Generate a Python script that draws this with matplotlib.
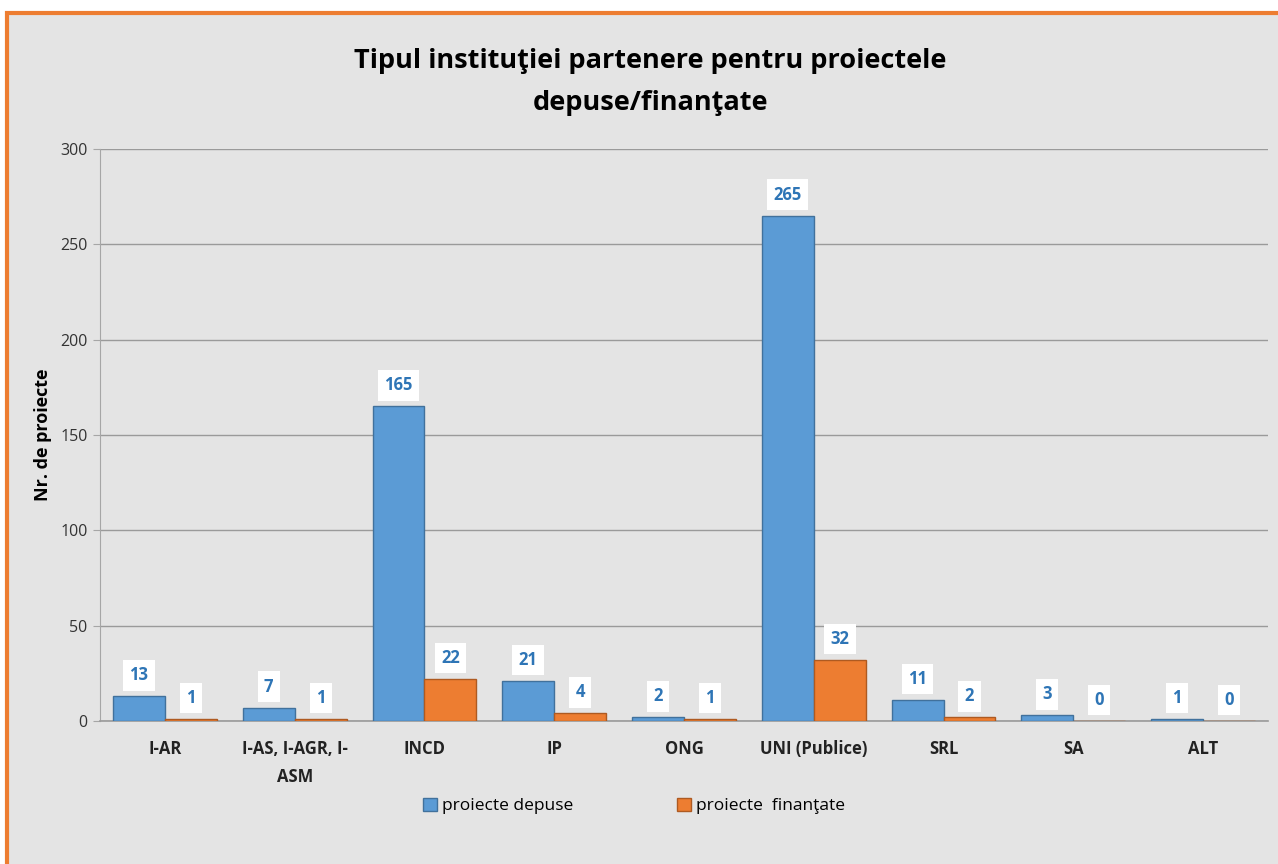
import matplotlib
matplotlib.use("Agg")
import matplotlib.pyplot as plt
import numpy as np
from matplotlib.patches import Rectangle

categories = ["I-AR", "I-AS, I-AGR, I-\nASM", "INCD", "IP", "ONG", "UNI (Publice)", "SRL", "SA", "ALT"]
depuse = [13, 7, 165, 21, 2, 265, 11, 3, 1]
finantate = [1, 1, 22, 4, 1, 32, 2, 0, 0]
series_names = ["proiecte depuse", "proiecte  finanţate"]
yticks = [0, 50, 100, 150, 200, 250, 300]

plt.rcParams['font.family'] = ['Open Sans', 'DejaVu Sans']

W, H = 1278, 864
fig = plt.figure(figsize=(W / 100, H / 100), dpi=100)
fig.patch.set_facecolor("white")

# background panel with orange border
bg = Rectangle((7 / W, -0.1), 1.2, 1 - 13 / H + 0.1, transform=fig.transFigure,
               facecolor="#e4e4e4", edgecolor="#ed7d31", linewidth=3.0, zorder=-5)
fig.add_artist(bg)

ax = fig.add_axes([100 / W, 1 - 721 / H, 1168 / W, (721 - 149) / H])
ax.set_facecolor("none")
ax.set_zorder(2)

x = np.arange(len(categories))
bw = 0.4
blue, orange = "#5b9bd5", "#ed7d31"
b1 = ax.bar(x - bw / 2, depuse, bw, color=blue, edgecolor="#41719c", linewidth=1.0,
            label=series_names[0], zorder=3)
b2 = ax.bar(x + bw / 2, finantate, bw, color=orange, edgecolor="#ae5a21", linewidth=1.0,
            label=series_names[1], zorder=3)

for bars, vals in ((b1, depuse), (b2, finantate)):
    for rect, v in zip(bars, vals):
        ax.annotate(str(v), (rect.get_x() + rect.get_width() / 2, v),
                    xytext=(0, 21), textcoords="offset pixels",
                    ha="center", va="center", fontsize=12, fontweight="bold",
                    color="#2e75b6", zorder=5,
                    bbox=dict(boxstyle="square,pad=0.38", facecolor="white", edgecolor="none"))

ax.set_xlim(-0.5, len(categories) - 0.5)
ax.set_ylim(0, 300)
ax.set_yticks(yticks)
ax.yaxis.grid(True, color="#9a9a9a", linewidth=1.0, zorder=0)
ax.set_axisbelow(True)
for s in ("top", "right"):
    ax.spines[s].set_visible(False)
ax.spines["left"].set_color("#a6a6a6")
ax.spines["bottom"].set_color("#9a9a9a")
ax.spines["bottom"].set_linewidth(1.2)
ax.tick_params(axis="y", length=5, color="#a6a6a6", labelsize=11.5, labelcolor="#333333", pad=4)
ax.tick_params(axis="x", length=0, pad=14)
ax.set_xticks(x)
ax.set_xticklabels(categories, fontsize=12, fontweight="bold", color="#222222", linespacing=1.7)
ax.set_ylabel("Nr. de proiecte", fontsize=13, fontweight="bold", labelpad=6)

fig.text(650 / W, 1 - 82 / H, "Tipul instituţiei partenere pentru proiectele\ndepuse/finanţate",
         ha="center", va="center", fontsize=19.5, fontweight="bold", linespacing=1.85)

leg = fig.legend(handles=[b1, b2], labels=series_names, loc="center",
                 bbox_to_anchor=(634 / W, 1 - 806 / H), ncol=2, frameon=False,
                 fontsize=12.5, handlelength=0.8, handleheight=0.8, handletextpad=0.3,
                 columnspacing=6.0)

fig.savefig("out.png", dpi=100, facecolor=fig.get_facecolor())
